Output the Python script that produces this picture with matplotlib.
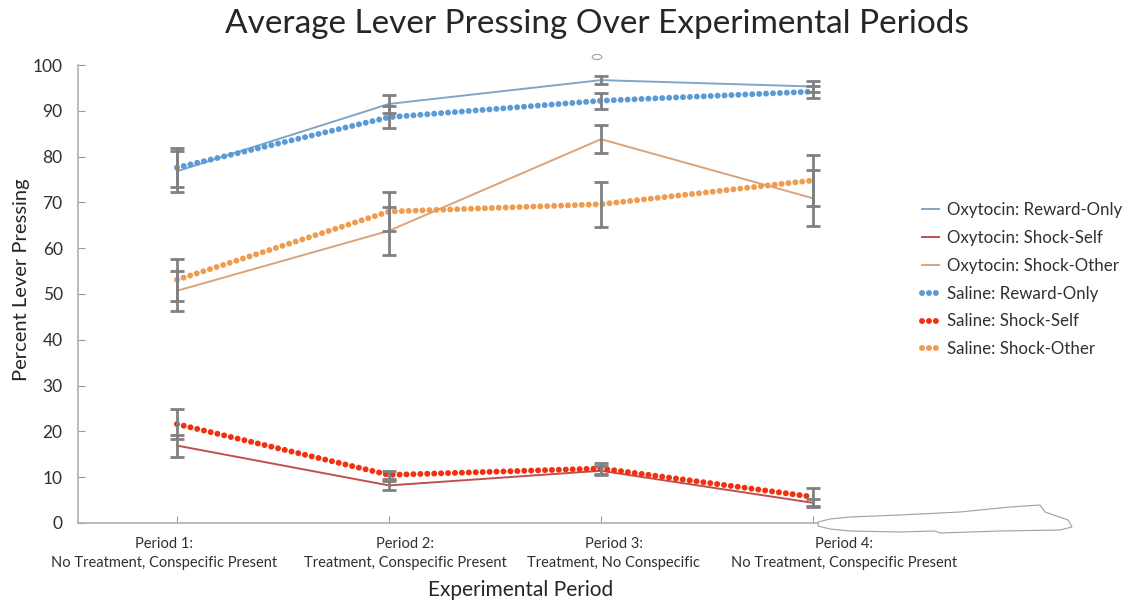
import matplotlib
matplotlib.use('Agg')
import matplotlib.pyplot as plt
import matplotlib.transforms as mtransforms
from matplotlib.lines import Line2D
from matplotlib.patches import Polygon, Circle
import numpy as np

# Experimental periods (x categories)
periods = ['Period 1:\nNo Treatment, Conspecific Present',
           'Period 2:\nTreatment, Conspecific Present',
           'Period 3:\nTreatment, No Conspecific',
           'Period 4:\nNo Treatment, Conspecific Present']

# Mean percent lever pressing per period
oxy_reward      = np.array([76.8, 91.5, 96.7, 95.3])
oxy_shock_self  = np.array([16.9,  8.2, 11.4,  4.4])
oxy_shock_other = np.array([50.7, 63.8, 83.8, 70.9])
sal_reward      = np.array([77.6, 88.6, 92.2, 94.2])
sal_shock_self  = np.array([21.6, 10.5, 11.9,  5.7])
sal_shock_other = np.array([53.1, 68.0, 69.6, 74.8])

# Standard errors
oxy_reward_err      = np.array([4.5, 1.9, 0.8, 1.2])
oxy_shock_self_err  = np.array([2.4, 1.0, 1.0, 0.9])
oxy_shock_other_err = np.array([4.4, 5.3, 3.0, 6.1])
sal_reward_err      = np.array([4.3, 2.4, 1.7, 1.3])
sal_shock_self_err  = np.array([3.3, 0.9, 1.2, 2.0])
sal_shock_other_err = np.array([4.6, 4.2, 4.9, 5.5])

plt.rcParams['font.family'] = ['Lato', 'DejaVu Sans']

DOTS = (0, (0.01, 1.15))


def main():
    fig = plt.figure(figsize=(11.28, 6.03), dpi=100)
    ax = fig.add_axes([0.0691, 0.1327, 0.7456, 0.7595])
    x = np.arange(len(periods))

    series = [
        ('Oxytocin: Reward-Only', oxy_reward, oxy_reward_err, '#7fa6c8', False),
        ('Oxytocin: Shock-Self', oxy_shock_self, oxy_shock_self_err, '#c0504d', False),
        ('Oxytocin: Shock-Other', oxy_shock_other, oxy_shock_other_err, '#d9a47c', False),
        ('Saline: Reward-Only', sal_reward, sal_reward_err, '#5b9bd5', True),
        ('Saline: Shock-Self', sal_shock_self, sal_shock_self_err, '#f2300f', True),
        ('Saline: Shock-Other', sal_shock_other, sal_shock_other_err, '#ee9c50', True),
    ]

    handles = []
    for label, y, err, color, dotted in series:
        if dotted:
            kw = dict(lw=4.3, ls=DOTS, dash_capstyle='round')
        else:
            kw = dict(lw=1.4, ls='-')
        ax.plot(x, y, color=color, zorder=2, **kw)
        ax.errorbar(x, y, yerr=err, fmt='none', ecolor='#808080', elinewidth=2,
                    capsize=5, capthick=2, zorder=3)
        handles.append(Line2D([], [], color=color, label=label, **kw))

    ax.set_xlim(-0.467, 3.5)
    ax.set_ylim(0, 100)
    ax.set_yticks(np.arange(0, 101, 10))
    ax.set_xticks(x)
    ax.set_xticklabels([])
    # period labels, each nudged a little off its tick
    for xi, text, dx in zip(x, periods, [-13, 16, 13, 31]):
        shift = mtransforms.ScaledTranslation(dx / 100, -0.14, fig.dpi_scale_trans)
        ax.text(xi, 0, text, transform=ax.get_xaxis_transform() + shift,
                ha='center', va='top', multialignment='center', fontsize=10.5,
                color='#303030', linespacing=1.45)
    ax.tick_params(axis='y', direction='in', length=5, color='#9a9a9a',
                   labelsize=12.5, labelcolor='#303030', pad=11)
    ax.tick_params(axis='x', direction='in', length=5, color='#9a9a9a')
    for side in ['top', 'right']:
        ax.spines[side].set_visible(False)
    for side in ['left', 'bottom']:
        ax.spines[side].set_color('#b0b0b0')
        ax.spines[side].set_linewidth(1.2)

    fig.text(22 / 1128, 1 - 280 / 603, 'Percent Lever Pressing', fontsize=14.5,
             color='#262626', rotation=90, ha='center', va='center')
    fig.text(521 / 1128, 1 - 590 / 603, 'Experimental Period', fontsize=15,
             color='#262626', ha='center', va='center')
    fig.text(597 / 1128, 1 - 24 / 603, 'Average Lever Pressing Over Experimental Periods',
             fontsize=24, color='#262626', ha='center', va='center')

    fig.legend(handles=handles, loc='upper left', frameon=False,
               bbox_to_anchor=(922 / 1128, 1 - 202 / 603), fontsize=12.2,
               handlelength=1.0, handletextpad=0.5, labelspacing=0.7,
               borderpad=0, borderaxespad=0, labelcolor='#303030')

    # white scribble over the end of the x axis
    blob = [(818, 522), (830, 519), (850, 517), (900, 515), (960, 512), (1010, 507),
            (1040, 505), (1045, 512), (1068, 520), (1072, 527), (1060, 530),
            (1000, 531), (940, 533), (935, 531), (900, 532), (850, 531), (830, 529),
            (818, 526)]
    blob = [(px / 1128, 1 - py / 603) for px, py in blob]
    fig.patches.append(Polygon(blob, closed=True, facecolor='white', edgecolor='#a0a0a0',
                               lw=0.8, transform=fig.transFigure, zorder=5))
    fig.patches.append(Circle((597 / 1128, 1 - 57 / 603), 0.0042, facecolor='white',
                              edgecolor='#a0a0a0', lw=0.8, transform=fig.transFigure))

    fig.savefig('out.png', dpi=100)


if __name__ == '__main__':
    main()
